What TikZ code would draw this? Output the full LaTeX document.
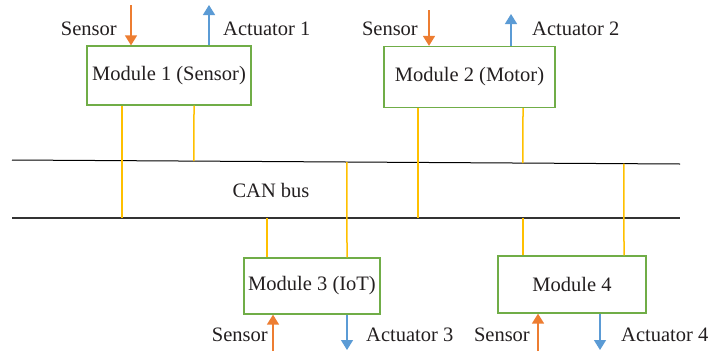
\documentclass[tikz,border=0pt]{standalone}
\usepackage{fontspec}
\setmainfont{Liberation Serif}
\usetikzlibrary{arrows.meta,calc}
\definecolor{sensc}{RGB}{237,125,49}
\definecolor{actc}{RGB}{91,155,213}
\definecolor{boxc}{RGB}{112,173,71}
\definecolor{linkc}{RGB}{255,192,0}
\definecolor{txtc}{RGB}{35,31,32}
\tikzset{
  module/.style={draw=boxc, line width=1.3pt, rectangle, inner sep=0pt, text=txtc, font=\fontsize{20.5}{24}\selectfont},
  lbl/.style={text=txtc, font=\fontsize{20.5}{24}\selectfont, inner sep=0pt},
  link/.style={draw=linkc, line width=1.5pt},
  busline/.style={draw=black!80, line width=1.4pt},
  sens/.style={draw=sensc, line width=1.6pt, -{Triangle[width=12pt,length=10pt,fill=sensc]}},
  act/.style={draw=actc, line width=1.4pt, -{Triangle[width=12pt,length=10pt,fill=actc]}}
}
\begin{document}
\begin{tikzpicture}[x=1pt,y=-1pt]
\useasboundingbox (0,0) rectangle (711,351);
% bus
\coordinate (tl) at (12,160);
\coordinate (tr) at (680,164);
\coordinate (bl) at (12,218);
\coordinate (br) at (680,218);
\draw[busline, draw=black, line width=1pt] (tl) -- (tr);
\draw[busline] (bl) -- (br);
\node[lbl] (can) at (271,190) {CAN bus};
% modules
\node[module, minimum width=164pt, minimum height=59pt] (m1) at (169,75.5) {Module 1 (Sensor)};
\node[module, minimum width=171pt, minimum height=61pt] (m2) at (469.5,77) {Module 2 (Motor)};
\node[module, minimum width=136pt, minimum height=56pt] (m3) at (312,286) {Module 3 (IoT)};
\node[module, minimum width=148pt, minimum height=57pt] (m4) at (572,284.5) {Module 4};
% links to bus
\coordinate (x1a) at (122,218);
\coordinate (x1b) at (194,160);
\coordinate (x2a) at (418,218);
\coordinate (x2b) at (523,160);
\coordinate (x3a) at (267,218);
\coordinate (x3b) at (347,160);
\coordinate (x4a) at (523,218);
\coordinate (x4b) at (624,160);
\draw[link] (m1.south -| x1a) -- (x1a);
\draw[link] (m1.south -| x1b) -- ($(tl)!(x1b)!(tr)$);
\draw[link] (m2.south -| x2a) -- (x2a);
\draw[link] (m2.south -| x2b) -- ($(tl)!(x2b)!(tr)$);
\draw[link] (m3.north -| x3a) -- (x3a);
\draw[link] (m3.north -| x3b) -- ($(tl)!(x3b)!(tr)$);
\draw[link] (m4.north -| x4a) -- (x4a);
\draw[link] (m4.north -| x4b) -- ($(tl)!(x4b)!(tr)$);
% sensor / actuator arrows
\coordinate (s1) at (131,5);
\coordinate (a1) at (209,5);
\coordinate (s2) at (429,10);
\coordinate (a2) at (511,14);
\coordinate (s3) at (273,351);
\coordinate (a3) at (347,350);
\coordinate (s4) at (538,351);
\coordinate (a4) at (600,350);
\draw[sens] (s1) -- (s1 |- m1.north);
\draw[act] (a1 |- m1.north) -- (a1);
\draw[sens] (s2) -- (s2 |- m2.north);
\draw[act] (a2 |- m2.north) -- (a2);
\draw[sens] (s3) -- (s3 |- m3.south);
\draw[act] (a3 |- m3.south) -- (a3);
\draw[sens] (s4) -- (s4 |- m4.south);
\draw[act] (a4 |- m4.south) -- (a4);
% labels
\node[lbl, anchor=base east] (ls1) at (117,35) {Sensor};
\node[lbl, anchor=base west] (la1) at (223,35) {Actuator 1};
\node[lbl, anchor=base east] (ls2) at (418,35) {Sensor};
\node[lbl, anchor=base west] (la2) at (532,35) {Actuator 2};
\node[lbl, anchor=base east] (ls3) at (268,341) {Sensor};
\node[lbl, anchor=base west] (la3) at (366,341) {Actuator 3};
\node[lbl, anchor=base east] (ls4) at (530,341) {Sensor};
\node[lbl, anchor=base west] (la4) at (621,341) {Actuator 4};
\end{tikzpicture}
\end{document}
